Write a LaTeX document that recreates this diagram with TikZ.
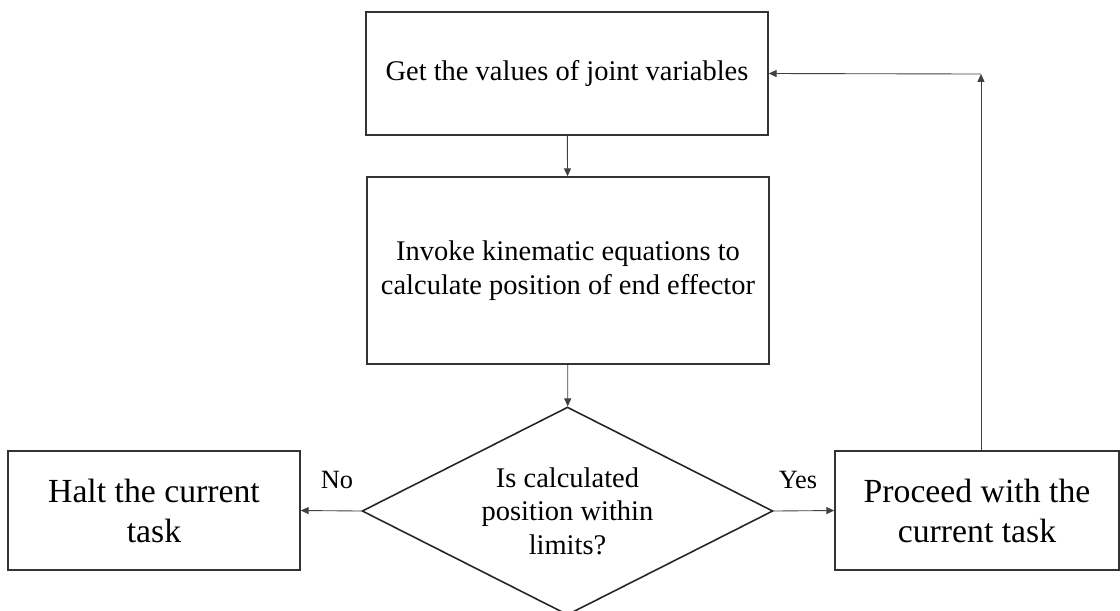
\documentclass[tikz,border=0pt]{standalone}
\usepackage{fontspec}
\setmainfont{Liberation Serif}
\usetikzlibrary{shapes.geometric,arrows.meta}

\tikzset{
  block/.style={draw=black!80,line width=0.9pt,rectangle,align=center,inner sep=0pt,
    font=\fontsize{16.2}{19.2}\selectfont},
  bigblock/.style={block,font=\fontsize{19.2}{22.8}\selectfont},
  decision/.style={draw=black!85,line width=0.9pt,diamond,aspect=2,align=center,
    inner sep=0pt,font=\fontsize{16.2}{19}\selectfont},
  line/.style={draw=black!75,line width=0.5pt,-{Triangle[length=4.5pt,width=4pt]}},
  answer/.style={inner sep=0pt,font=\fontsize{15}{18}\selectfont}
}

\begin{document}
\begin{tikzpicture}[x=0.02cm,y=-0.02cm]
\useasboundingbox (0,0) rectangle (1120,610);

% steps of the check
\node[block,minimum width=8.04cm,minimum height=2.46cm] (get) at (567,73.5) {Get the values of joint variables};
\node[block,minimum width=8.04cm,minimum height=3.74cm] (invoke) at (568,270.5) {Invoke kinematic equations to\\calculate position of end effector};
\node[decision,minimum width=8.22cm,minimum height=4.16cm] (check) at (567.5,511) {Is calculated\\position within\\limits?};
\node[bigblock,minimum width=5.84cm,minimum height=2.38cm] (halt) at (154,510.5) {Halt the current\\task};
\node[bigblock,minimum width=5.68cm,minimum height=2.38cm] (proceed) at (977,510.5) {Proceed with the\\current task};
\coordinate (back) at (981,74);

% connectors
\draw[line] (get) -- (invoke);
\draw[line] (invoke) -- (check);
\draw[line] (check.west) -- node[answer,above=12.5pt,pos=0.4]{No} (halt.east);
\draw[line] (check.east) -- node[answer,above=12.5pt,pos=0.4]{Yes} (proceed.west);
\draw[line] (proceed.north -| back) -- (back);
\draw[line] (back) -- (get.east);
\end{tikzpicture}
\end{document}
